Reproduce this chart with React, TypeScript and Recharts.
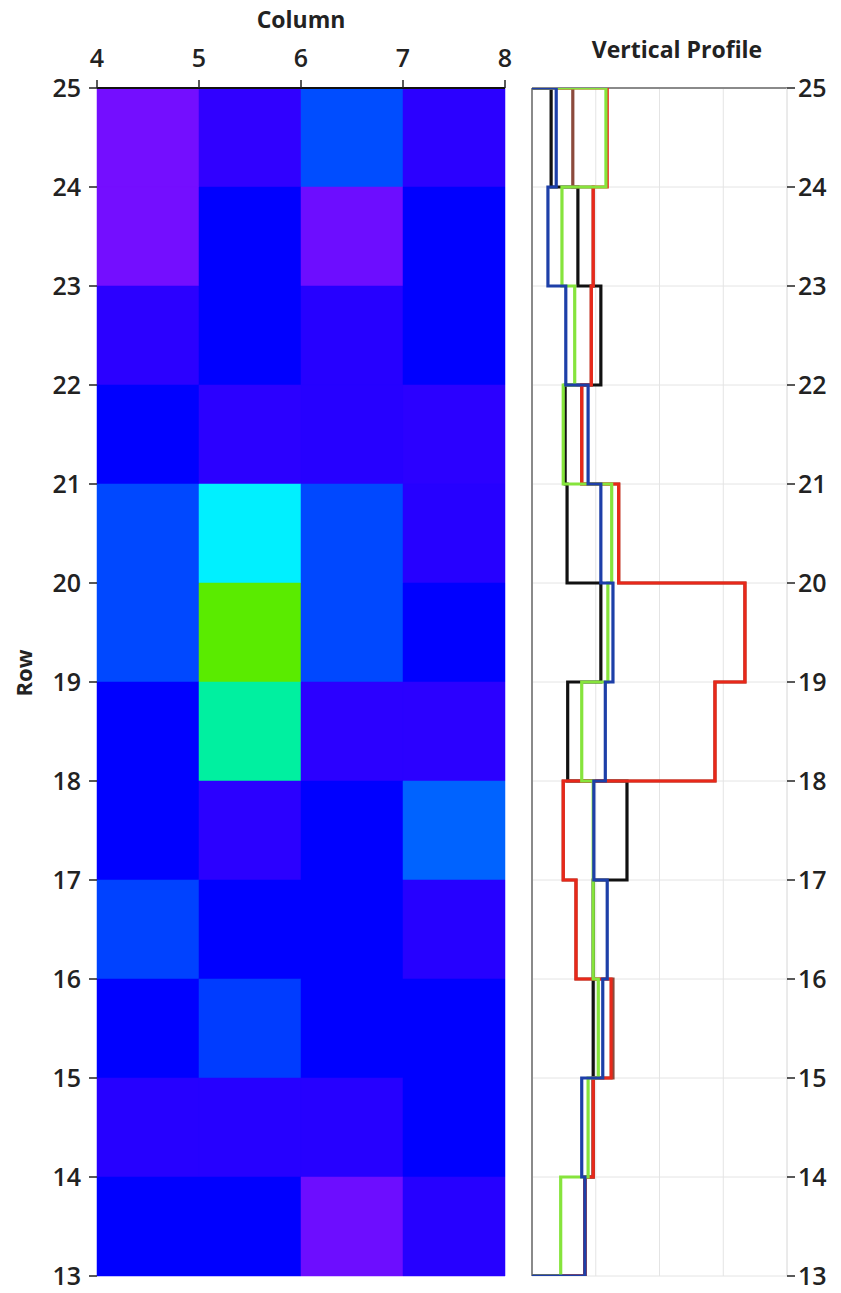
import React from 'react';
import {
  ComposedChart,
  XAxis,
  YAxis,
  ReferenceArea,
  Scatter,
  Line,
  CartesianGrid,
  ReferenceLine,
} from 'recharts';

// ---------- Heatmap data ----------
const columnTicks = [4, 5, 6, 7, 8];
const rowTicks = [13, 14, 15, 16, 17, 18, 19, 20, 21, 22, 23, 24, 25];
const columnStarts = [4, 5, 6, 7];
const rowStarts = [24, 23, 22, 21, 20, 19, 18, 17, 16, 15, 14, 13];

// one array per row (top to bottom), one value per column 4..7
const row24 = [0.01, 0.1, 0.34, 0.11];
const row23 = [0.01, 0.2, 0.02, 0.2];
const row22 = [0.11, 0.2, 0.12, 0.2];
const row21 = [0.2, 0.11, 0.12, 0.11];
const row20 = [0.33, 0.6, 0.33, 0.12];
const row19 = [0.33, 1.0, 0.33, 0.2];
const row18 = [0.2, 0.8, 0.11, 0.11];
const row17 = [0.2, 0.11, 0.2, 0.38];
const row16 = [0.32, 0.2, 0.2, 0.12];
const row15 = [0.2, 0.31, 0.2, 0.2];
const row14 = [0.12, 0.12, 0.12, 0.2];
const row13 = [0.2, 0.2, 0.02, 0.12];
const cellValues = [row24, row23, row22, row21, row20, row19, row18, row17, row16, row15, row14, row13];

const colorStops: [number, [number, number, number]][] = [
  [0.0, [124, 16, 255]],
  [0.1, [48, 0, 255]],
  [0.2, [0, 0, 255]],
  [0.4, [0, 110, 255]],
  [0.6, [0, 240, 255]],
  [0.8, [0, 240, 160]],
  [1.0, [90, 235, 0]],
];

function valueToColor(v: number): string {
  for (let i = 0; i < colorStops.length - 1; i++) {
    const [v0, c0] = colorStops[i];
    const [v1, c1] = colorStops[i + 1];
    if (v <= v1) {
      const t = Math.max(0, Math.min(1, (v - v0) / (v1 - v0)));
      const c = c0.map((a, k) => Math.round(a + (c1[k] - a) * t));
      return `rgb(${c[0]},${c[1]},${c[2]})`;
    }
  }
  const c = colorStops[colorStops.length - 1][1];
  return `rgb(${c[0]},${c[1]},${c[2]})`;
}

const cells = rowStarts.flatMap((r, ri) =>
  columnStarts.map((c, ci) => ({ x: c + 0.5, y: r + 0.5, c, r, value: cellValues[ri][ci] }))
);

// ---------- Vertical profile data ----------
const profileRows = rowStarts; // value i spans rowStarts[i] .. rowStarts[i]+1
const blackProfile = [0.3, 0.72, 1.08, 0.52, 0.55, 1.08, 0.56, 1.49, 0.96, 0.96, 0.96, 0.83];
const brownProfile = [0.64, 0.96, 0.93, 0.78, 1.36, 3.34, 2.87, 0.49, 0.69, 1.27, 0.96, 0.83];
const redProfile = [1.18, 0.96, 0.93, 0.78, 1.36, 3.34, 2.87, 0.49, 0.69, 1.24, 0.96, 0.83];
const greenProfile = [1.16, 0.47, 0.67, 0.49, 1.25, 1.19, 0.78, 0.96, 0.96, 1.04, 0.88, 0.45];
const blueProfile = [0.38, 0.25, 0.53, 0.88, 1.08, 1.27, 1.15, 0.97, 1.18, 1.11, 0.78, 0.83];
const profileTicks = [0, 1, 2, 3, 4];

const profileData = [
  { row: 25, black: 0, brown: 0, red: 0, green: 0, blue: 0 },
  ...profileRows.map((r, i) => ({
    row: r,
    black: blackProfile[i],
    brown: brownProfile[i],
    red: redProfile[i],
    green: greenProfile[i],
    blue: blueProfile[i],
  })),
  { row: 13, black: 0, brown: 0, red: 0, green: 0, blue: 0 },
];

const series = [
  { key: 'black', color: '#111111' },
  { key: 'brown', color: '#8c4a3c' },
  { key: 'red', color: '#e8281a' },
  { key: 'green', color: '#86e43c' },
  { key: 'blue', color: '#1d3fa8' },
];

const FONT = '"Open Sans", "DejaVu Sans", sans-serif';
const tickStyle = { fontFamily: FONT, fontSize: 25, fontWeight: 600, fill: '#222' };

export default function App() {
  return (
    <div style={{ position: 'absolute', left: 0, top: 0, width: 841, height: 1293, background: '#fff' }}>
      <div style={{ position: 'absolute', left: 0, top: 0 }}>
        <ComposedChart
          width={520}
          height={1293}
          data={cells}
          margin={{ top: 48, left: 37, right: 15, bottom: 17 }}
        >
          {cells.map((d, i) => (
            <ReferenceArea
              key={i}
              x1={d.c}
              x2={d.c + 1}
              y1={d.r}
              y2={d.r + 1}
              fill={valueToColor(d.value)}
              fillOpacity={1}
              stroke={valueToColor(d.value)}
              strokeWidth={0.5}
            />
          ))}
          <Scatter dataKey="y" isAnimationActive={false} shape={() => <g />} />
          <XAxis
            type="number"
            dataKey="x"
            orientation="top"
            domain={[4, 8]}
            ticks={columnTicks}
            height={40}
            allowDataOverflow
            tick={tickStyle}
            tickSize={8}
            tickMargin={13}
            axisLine={{ stroke: '#111', strokeWidth: 2 }}
            tickLine={{ stroke: '#222', strokeWidth: 1.5 }}
            interval={0}
          />
          <YAxis
            type="number"
            dataKey="y"
            domain={[13, 25]}
            ticks={rowTicks}
            width={60}
            allowDataOverflow
            tick={tickStyle}
            tickSize={8}
            tickMargin={8}
            axisLine={false}
            tickLine={{ stroke: '#222', strokeWidth: 1.5 }}
            interval={0}
          />
        </ComposedChart>
      </div>
      <div style={{ position: 'absolute', left: 520, top: 0 }}>
        <ComposedChart
          layout="vertical"
          width={321}
          height={1293}
          data={profileData}
          margin={{ top: 88, left: 12, right: 4, bottom: 17 }}
        >
          <CartesianGrid stroke="#e4e4e4" strokeWidth={1} />
          <XAxis type="number" domain={[0, 4]} ticks={profileTicks} hide allowDataOverflow />
          <YAxis
            type="number"
            dataKey="row"
            orientation="right"
            domain={[13, 25]}
            ticks={rowTicks}
            reversed
            width={50}
            allowDataOverflow
            tick={tickStyle}
            tickSize={8}
            tickMargin={3}
            axisLine={{ stroke: '#e4e4e4' }}
            tickLine={{ stroke: '#222', strokeWidth: 1.5 }}
            interval={0}
          />
          <ReferenceLine x={0} stroke="#8a8a8a" strokeWidth={2} />
          <ReferenceLine y={25} stroke="#8a8a8a" strokeWidth={2} />
          {series.map((s) => (
            <Line
              key={s.key}
              dataKey={s.key}
              type="stepAfter"
              stroke={s.color}
              strokeWidth={3.2}
              dot={false}
              activeDot={false}
              isAnimationActive={false}
            />
          ))}
        </ComposedChart>
      </div>
      <svg
        width={841}
        height={1293}
        style={{ position: 'absolute', left: 0, top: 0, pointerEvents: 'none' }}
      >
        <text x={301} y={28} textAnchor="middle" fontFamily={FONT} fontSize={23} fontWeight={700} fill="#222">
          Column
        </text>
        <text x={677} y={58} textAnchor="middle" fontFamily={FONT} fontSize={23} fontWeight={700} fill="#222">
          Vertical Profile
        </text>
        <text
          x={0}
          y={0}
          transform="translate(32,673) rotate(-90)"
          textAnchor="middle"
          fontFamily={FONT}
          fontSize={22}
          fontWeight={700}
          fill="#222"
        >
          Row
        </text>
      </svg>
    </div>
  );
}
